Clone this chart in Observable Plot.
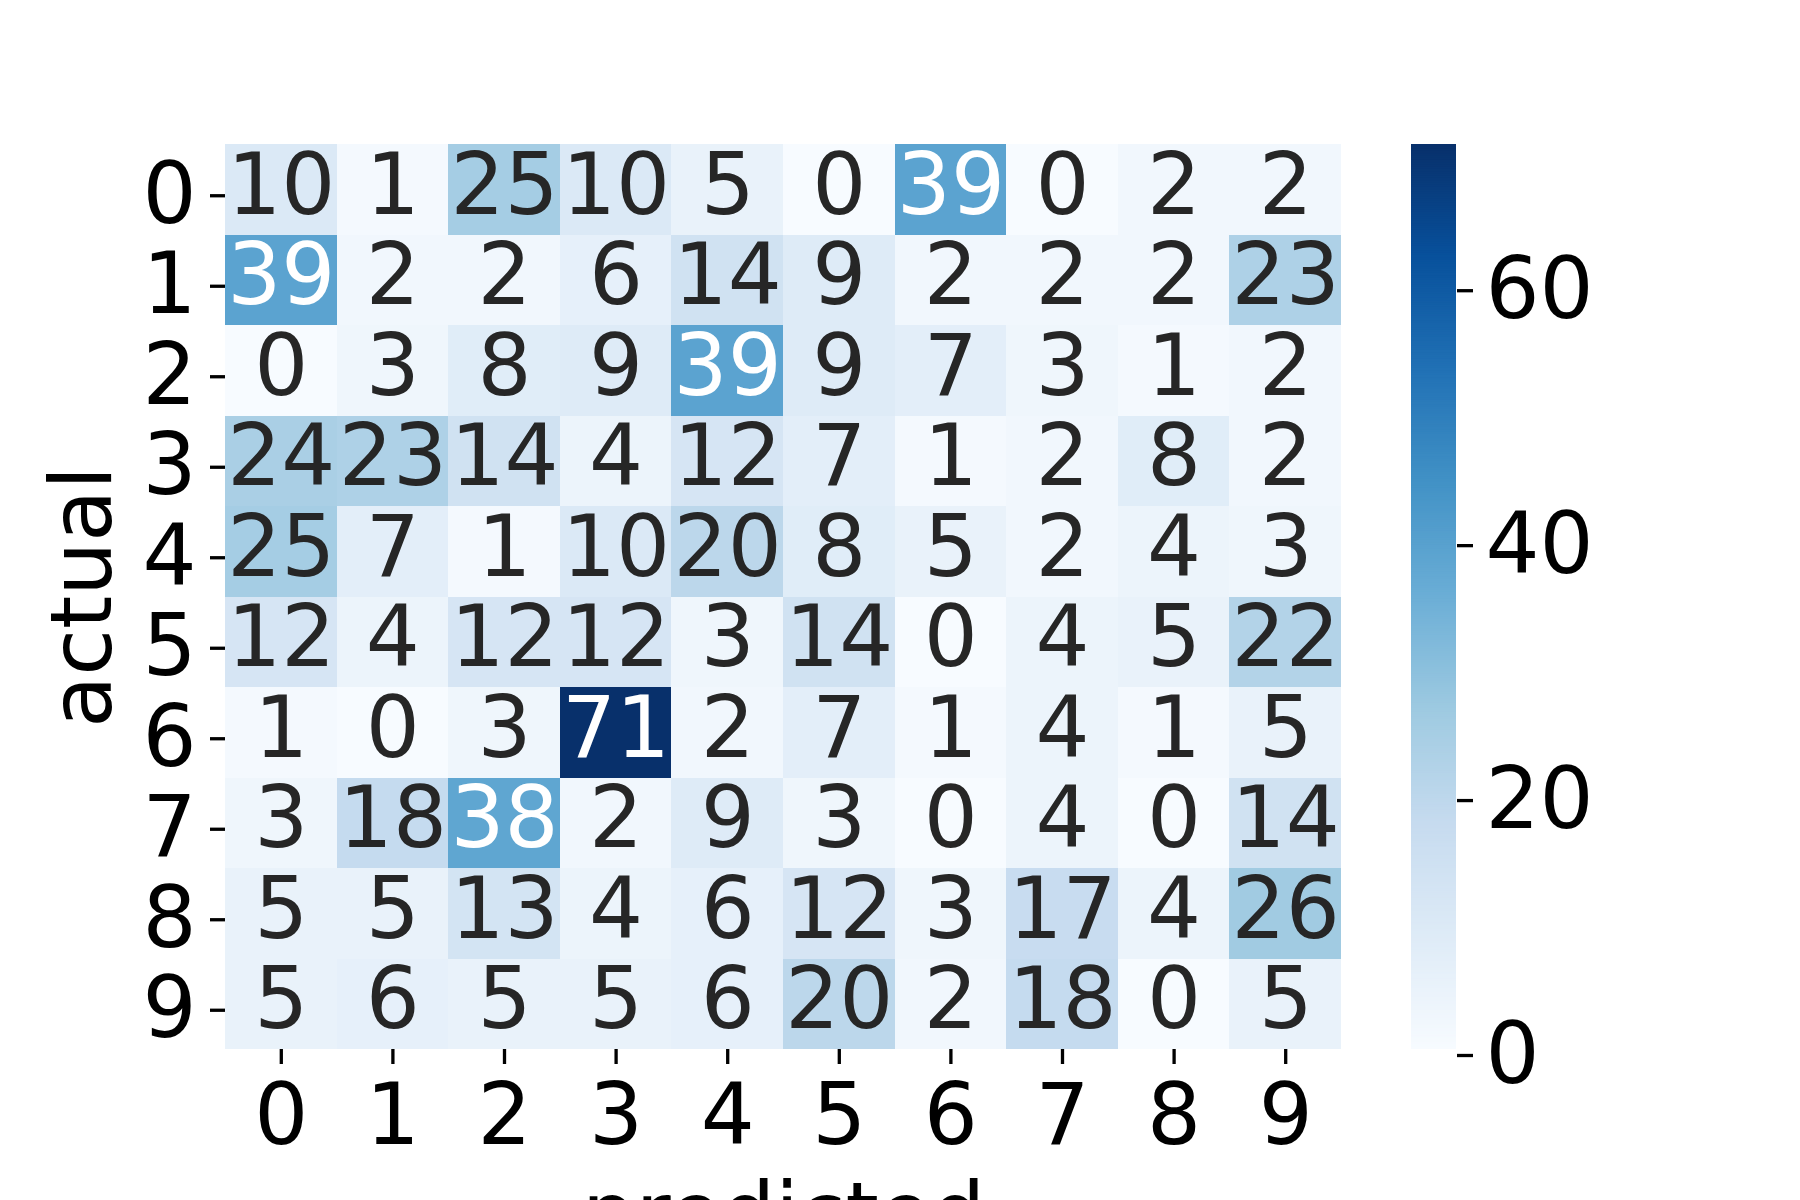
<!DOCTYPE html>
<html>
<head>
<meta charset="utf-8">
<script src="https://cdn.jsdelivr.net/npm/d3@7"></script>
<script src="https://cdn.jsdelivr.net/npm/@observablehq/plot@0.6"></script>
<style>
  html, body { margin: 0; padding: 0; background: white; overflow: hidden; }
  #wrap { position: relative; width: 1800px; height: 1200px; background: white; }
  #wrap svg { position: absolute; top: 0; overflow: visible; }
</style>
</head>
<body>
<div id="wrap"></div>
<script>
// ---- data ----
const actualLabels = ["0","1","2","3","4","5","6","7","8","9"];
const predictedLabels = ["0","1","2","3","4","5","6","7","8","9"];
const row0 = [10, 1, 25, 10, 5, 0, 39, 0, 2, 2];
const row1 = [39, 2, 2, 6, 14, 9, 2, 2, 2, 23];
const row2 = [0, 3, 8, 9, 39, 9, 7, 3, 1, 2];
const row3 = [24, 23, 14, 4, 12, 7, 1, 2, 8, 2];
const row4 = [25, 7, 1, 10, 20, 8, 5, 2, 4, 3];
const row5 = [12, 4, 12, 12, 3, 14, 0, 4, 5, 22];
const row6 = [1, 0, 3, 71, 2, 7, 1, 4, 1, 5];
const row7 = [3, 18, 38, 2, 9, 3, 0, 4, 0, 14];
const row8 = [5, 5, 13, 4, 6, 12, 3, 17, 4, 26];
const row9 = [5, 6, 5, 5, 6, 20, 2, 18, 0, 5];
const counts = [row0, row1, row2, row3, row4, row5, row6, row7, row8, row9];
const colorbarTicks = [0, 20, 40, 60];
const xTitle = "predicted";
const yTitle = "actual";

// ---- table ----
const cells = counts.flatMap((row, i) => row.map((v, j) => ({
  actual: actualLabels[i], predicted: predictedLabels[j], value: v
})));
const vmin = d3.min(cells, d => d.value);
const vmax = d3.max(cells, d => d.value);

// matplotlib "Blues" (ColorBrewer 9, linear RGB interpolation)
const blues = ["#f7fbff","#deebf7","#c6dbef","#9ecae1","#6baed6","#4292c6","#2171b5","#08519c","#08306b"];
const stops = blues.map((_, i) => vmin + i * (vmax - vmin) / (blues.length - 1));
const colorScale = {type: "linear", domain: stops, range: blues, interpolate: "rgb"};
const cfun = d3.scaleLinear().domain(stops).range(blues).interpolate(d3.interpolateRgb);

function luminance(c) {
  const rgb = d3.rgb(c);
  const f = x => { x /= 255; return x <= 0.03928 ? x / 12.92 : Math.pow((x + 0.055) / 1.055, 2.4); };
  return 0.2126 * f(rgb.r) + 0.7152 * f(rgb.g) + 0.0722 * f(rgb.b);
}
const isLight = d => luminance(cfun(d.value)) > 0.408;

const FONT = "DejaVu Sans";
const FS = 85;

const main = Plot.plot({
  width: 1800, height: 1200,
  marginLeft: 225, marginRight: 459, marginTop: 144, marginBottom: 151,
  style: {fontFamily: FONT, fontSize: FS + "px", background: "transparent", color: "black"},
  x: {type: "band", domain: predictedLabels, padding: 0, round: false},
  y: {type: "band", domain: actualLabels, padding: 0, round: false},
  color: colorScale,
  marks: [
    Plot.cell(cells, {x: "predicted", y: "actual", fill: "value", inset: 0, shapeRendering: "crispEdges"}),
    Plot.text(cells, {filter: isLight, x: "predicted", y: "actual", text: d => String(d.value), fill: "#262626", fontSize: FS, dy: -3}),
    Plot.text(cells, {filter: d => !isLight(d), x: "predicted", y: "actual", text: d => String(d.value), fill: "white", fontSize: FS, dy: -3}),
    Plot.axisX({anchor: "bottom", tickSize: 15, tickPadding: 19, strokeWidth: 3.3, fontSize: FS, label: null}),
    Plot.text([xTitle], {text: d => d, frameAnchor: "bottom", lineAnchor: "top", dy: 133, fontSize: FS, fill: "black"}),
    Plot.axisY({anchor: "left", tickSize: 15, tickPadding: 14, strokeWidth: 3.3, fontSize: FS, dy: 6,
      label: yTitle, labelAnchor: "center", labelArrow: "none", labelOffset: 175})
  ]
});
main.style.left = "0px";
document.getElementById("wrap").appendChild(main);

// ---- colorbar ----
const step = (vmax - vmin) / 400;
const ramp = d3.range(vmin, vmax, step);
const bar = Plot.plot({
  width: 500, height: 1200,
  marginLeft: 111, marginRight: 344, marginTop: 144, marginBottom: 151,
  style: {fontFamily: FONT, fontSize: FS + "px", background: "transparent", color: "black"},
  x: {axis: null},
  y: {domain: [vmin, vmax], axis: null},
  color: colorScale,
  marks: [
    Plot.rect(ramp, {y1: d => d, y2: d => Math.min(vmax, d + step * 1.5), fill: d => d + step / 2}),
    Plot.axisY({anchor: "right", ticks: colorbarTicks, tickFormat: d => String(d), tickSize: 16, tickPadding: 13,
      strokeWidth: 3.3, fontSize: FS, dy: 6, label: null})
  ]
});
bar.style.left = "1300px";
document.getElementById("wrap").appendChild(bar);
</script>
</body>
</html>
